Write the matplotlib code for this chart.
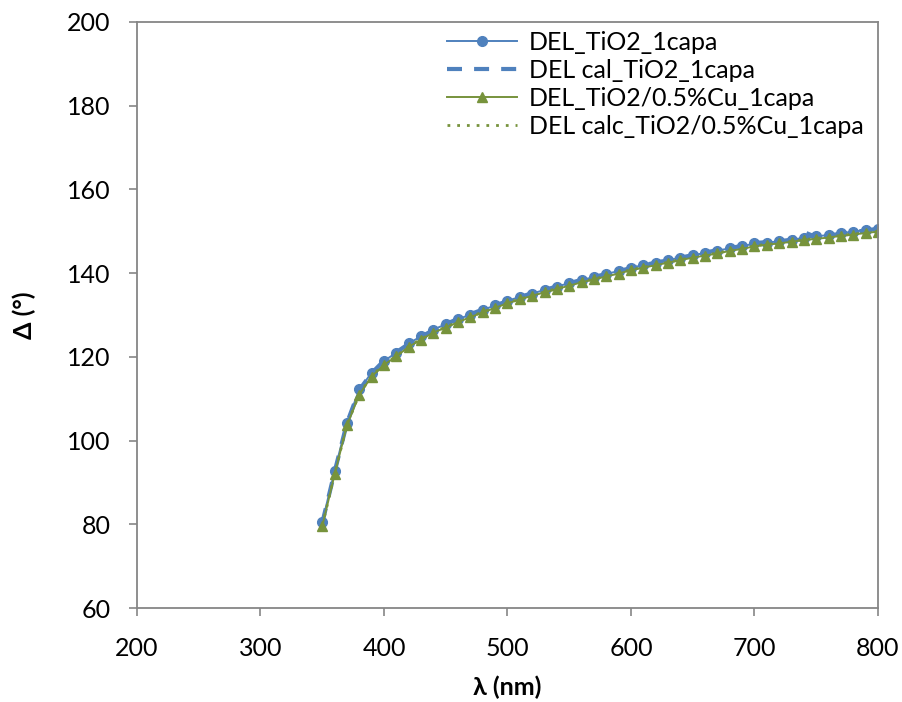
import matplotlib
matplotlib.use('Agg')
import matplotlib.pyplot as plt

plt.rcParams['font.family'] = ['Lato', 'DejaVu Sans']

# wavelength (nm)
wl = [350, 360, 370, 380, 390, 400, 410, 420, 430, 440, 450, 460, 470, 480, 490,
      500, 510, 520, 530, 540, 550, 560, 570, 580, 590, 600, 610, 620, 630, 640,
      650, 660, 670, 680, 690, 700, 710, 720, 730, 740, 750, 760, 770, 780, 790, 800]

# DEL TiO2 1 capa (measured / calculated)
del_tio2 = [80.5, 92.7, 104.3, 112.2, 116.2, 119.0, 121.0, 123.2, 124.9, 126.5,
            127.8, 129.0, 130.1, 131.2, 132.3, 133.4, 134.3, 135.1, 136.0, 136.8,
            137.6, 138.3, 139.1, 139.8, 140.5, 141.3, 141.9, 142.5, 143.1, 143.7,
            144.3, 144.8, 145.4, 145.9, 146.4, 147.1, 147.3, 147.6, 148.0, 148.4,
            148.8, 149.1, 149.5, 149.9, 150.3, 150.6]
del_cal_tio2 = [80.3, 92.5, 104.2, 112.1, 116.1, 119.1, 121.1, 123.1, 124.8, 126.4,
                127.8, 129.1, 130.2, 131.3, 132.3, 133.3, 134.3, 135.2, 136.0, 136.8,
                137.6, 138.4, 139.1, 139.8, 140.5, 141.2, 141.9, 142.5, 143.1, 143.7,
                144.3, 144.9, 145.5, 146.0, 146.5, 147.2, 147.4, 147.6, 148.0, 149.8,
                148.6, 149.0, 149.4, 149.8, 150.2, 150.6]

# DEL TiO2/0.5%Cu 1 capa (measured / calculated)
del_cu = [79.5, 91.9, 103.6, 111.0, 115.3, 118.1, 120.1, 122.4, 124.1, 125.8,
          127.0, 128.3, 129.5, 130.6, 131.7, 132.8, 133.7, 134.6, 135.4, 136.2,
          137.0, 137.8, 138.5, 139.2, 139.9, 140.7, 141.3, 141.9, 142.5, 143.1,
          143.7, 144.2, 144.7, 145.3, 145.8, 146.4, 146.8, 147.1, 147.5, 147.9,
          148.2, 148.5, 148.9, 149.2, 149.6, 149.9]
del_calc_cu = [79.6, 92.0, 103.7, 111.1, 115.4, 118.2, 120.2, 122.5, 124.2, 125.9,
               127.1, 128.4, 129.6, 130.7, 131.8, 132.9, 133.8, 134.7, 135.5, 136.3,
               137.1, 137.9, 138.6, 139.3, 140.0, 140.8, 141.4, 142.0, 142.6, 143.2,
               143.8, 144.3, 144.8, 145.4, 145.9, 146.5, 146.9, 147.2, 147.6, 148.0,
               148.3, 148.6, 149.0, 149.3, 149.7, 150.0]

blue = '#4F81BD'
green = '#77933C'
gray = '#868686'

fig = plt.figure(figsize=(9.03, 7.02), dpi=100)
ax = fig.add_axes([0.1517, 0.1339, 0.8206, 0.8348])

ax.plot(wl, del_tio2, color=blue, lw=1.4, marker='o', ms=7,
        label='DEL_TiO2_1capa')
ax.plot(wl, del_cal_tio2, color=blue, lw=3, ls=(0, (3.6, 2.9)),
        label='DEL cal_TiO2_1capa')
ax.plot(wl, del_cu, color=green, lw=1.4, marker='^', ms=7.5,
        label='DEL_TiO2/0.5%Cu_1capa')
ax.plot(wl, del_calc_cu, color=green, lw=2, ls=(0, (1, 2.5)),
        label='DEL calc_TiO2/0.5%Cu_1capa')

ax.set_xlim(200, 800)
ax.set_ylim(60, 200)
ax.set_xticks(range(200, 801, 100))
ax.set_yticks(range(60, 201, 20))
ax.tick_params(direction='out', length=6, width=1.2, color=gray,
               labelsize=18)
ax.tick_params(axis='x', pad=15)
ax.tick_params(axis='y', pad=13)
for s in ax.spines.values():
    s.set_color(gray)
    s.set_linewidth(1.3)

ax.set_xlabel('λ (nm)', fontsize=18, fontweight='bold', labelpad=11)
ax.set_ylabel('Δ (°)', fontsize=18, fontweight='bold', labelpad=22)

ax.legend(loc='upper left', bbox_to_anchor=(0.418, 0.985), frameon=False,
          fontsize=18, handlelength=2.8, handletextpad=0.5,
          labelspacing=0.2, borderaxespad=0, borderpad=0)

fig.savefig('out.png', dpi=100)
